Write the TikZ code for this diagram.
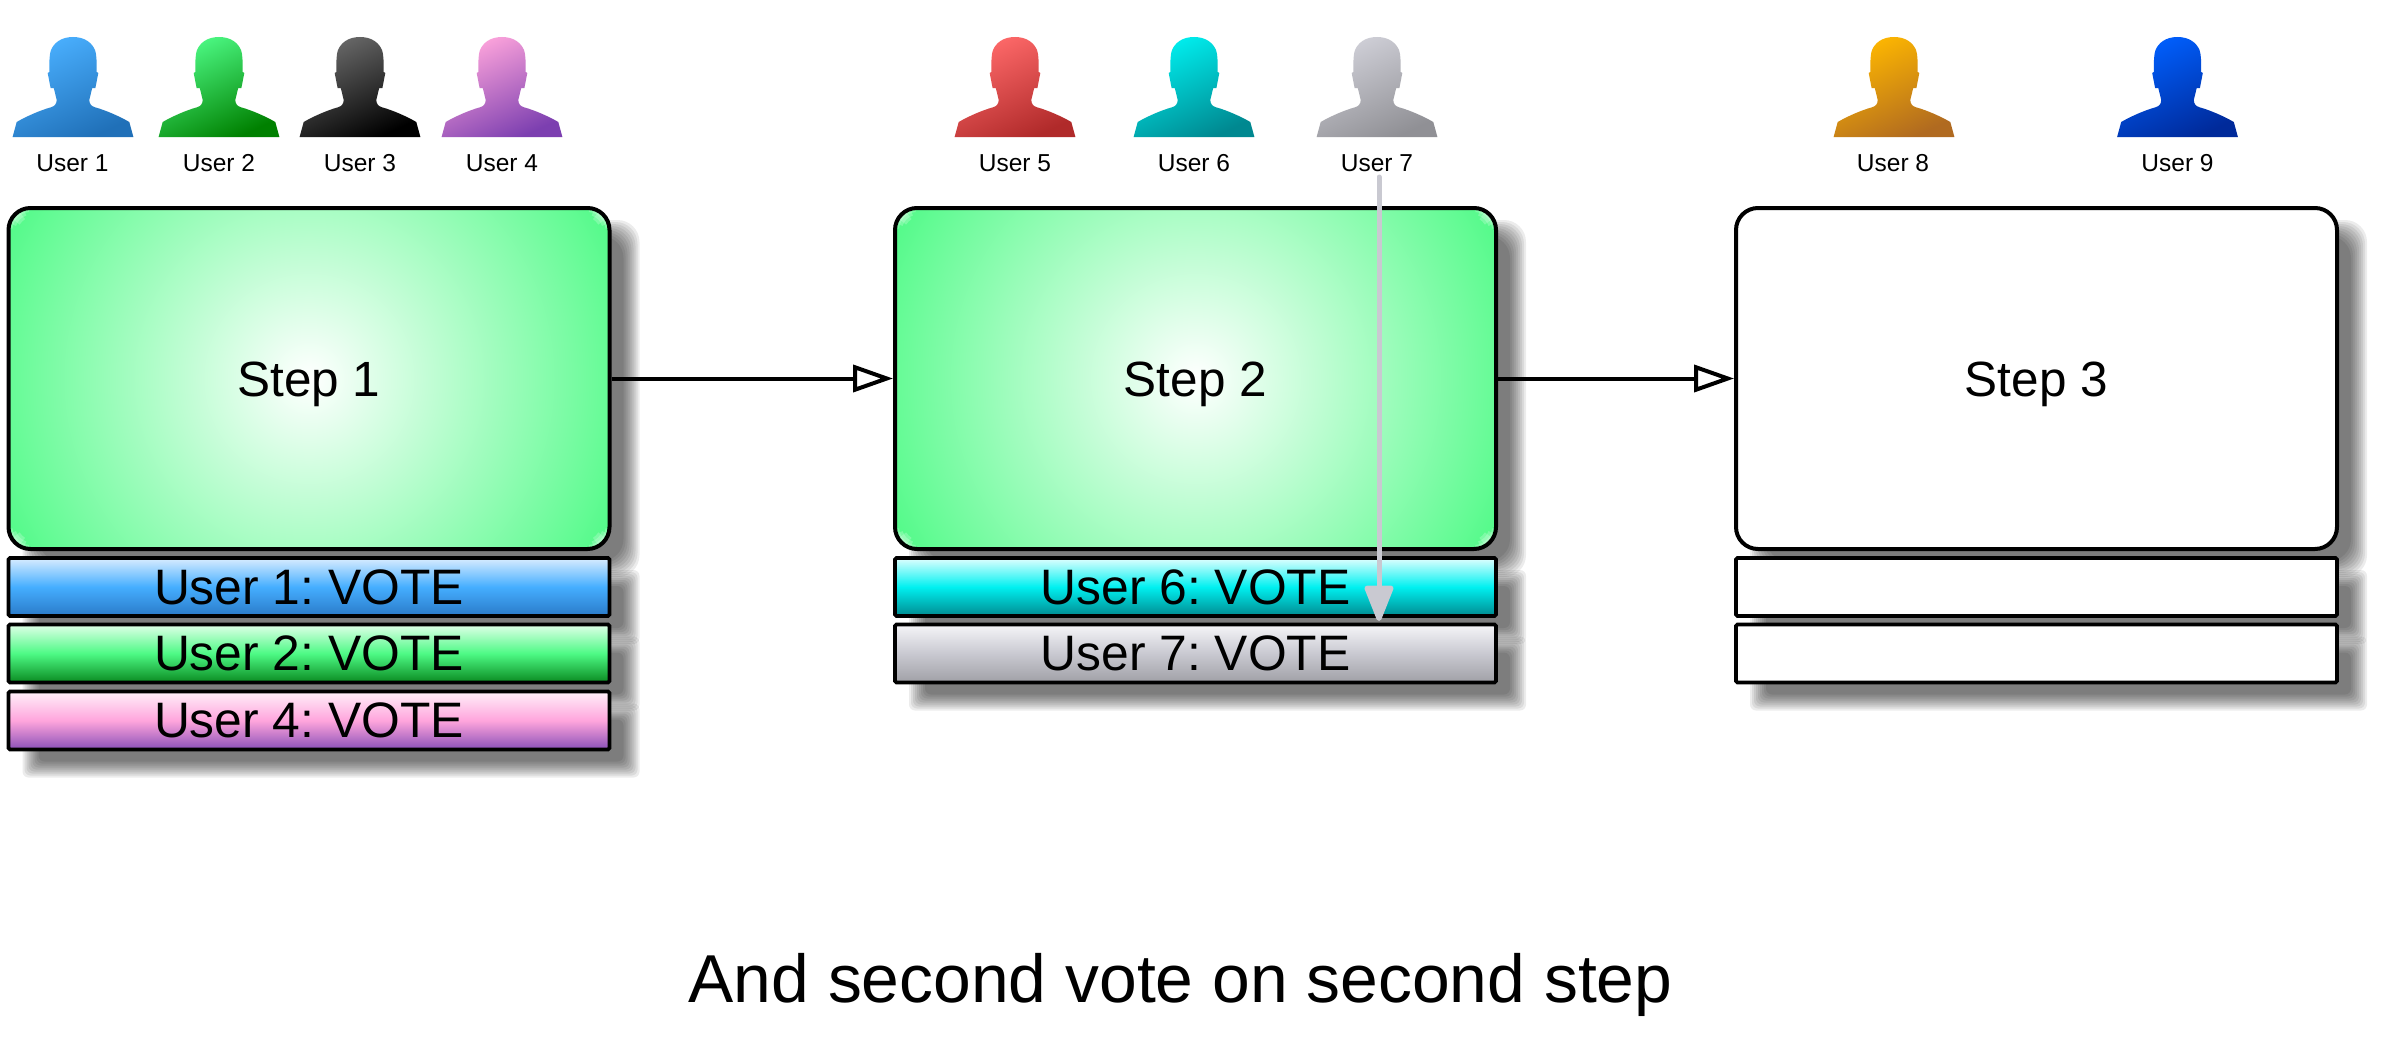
\documentclass[tikz,border=0pt]{standalone}
\usepackage{fontspec}
\setmainfont{Liberation Sans}
\usetikzlibrary{arrows.meta}
\definecolor{gmid}{HTML}{4DFA85}
\definecolor{shcol}{HTML}{000000}
\definecolor{gray7}{HTML}{C9C9D1}
\definecolor{ua}{HTML}{4AB0FF}\definecolor{ub}{HTML}{2070B8}
\definecolor{va}{HTML}{4DFA85}\definecolor{vb}{HTML}{008000}
\definecolor{wa}{HTML}{6A6A6A}\definecolor{wb}{HTML}{000000}
\definecolor{xa}{HTML}{FFA5DC}\definecolor{xb}{HTML}{7C3FB0}
\definecolor{ya}{HTML}{FF6A6A}\definecolor{yb}{HTML}{B02A2A}
\definecolor{za}{HTML}{00F0F0}\definecolor{zb}{HTML}{008890}
\definecolor{sa}{HTML}{D0D0D8}\definecolor{sb}{HTML}{909095}
\definecolor{ta}{HTML}{FFB800}\definecolor{tb}{HTML}{B06A20}
\definecolor{qa}{HTML}{0060FF}\definecolor{qb}{HTML}{002A9A}
\definecolor{b1t}{HTML}{D8ECFF}\definecolor{b1m}{HTML}{45AEFF}\definecolor{b1b}{HTML}{2A7AC8}
\definecolor{b2t}{HTML}{E0FFE8}\definecolor{b2m}{HTML}{4DFA85}\definecolor{b2b}{HTML}{0A8A20}
\definecolor{b4t}{HTML}{FFF0FA}\definecolor{b4m}{HTML}{FFA5DC}\definecolor{b4b}{HTML}{8A50B8}
\definecolor{b6t}{HTML}{E0FFFF}\definecolor{b6m}{HTML}{00F0F0}\definecolor{b6b}{HTML}{008A90}
\definecolor{b7t}{HTML}{F5F5F8}\definecolor{b7m}{HTML}{C9C9D1}\definecolor{b7b}{HTML}{A0A0A6}
\newcommand{\softshadow}[5]{%
  \foreach \rr in {8,6,4,2,0,-2,-4,-6,-8}{%
    \fill[shcol,opacity=.075,rounded corners=#5pt]
      ({#1+22-\rr},{#2+20-\rr}) rectangle ({#3+22+\rr},{#4+20+\rr});
  }%
}
\newcommand{\usericon}[3]{%
  \begin{scope}[shift={(#1,0)}]
    \shade[top color=#2,bottom color=#3,shading angle=25]
      (0,37) .. controls (12,37) and (19,43) .. (22,50)
      .. controls (23.5,54) and (23.7,60) .. (23.7,72)
      -- (25.3,73) -- (22.4,88) -- (19.2,88) -- (16.3,100)
      .. controls (16.5,104) and (18,106) .. (22,107.3)
      .. controls (32,110) and (46,116) .. (56.3,122) -- (60.4,137)
      -- (-60.4,137) -- (-56.3,122)
      .. controls (-46,116) and (-32,110) .. (-22,107.3)
      .. controls (-18,106) and (-16.5,104) .. (-16.3,100)
      -- (-19.2,88) -- (-22.4,88) -- (-25.3,73) -- (-23.7,72)
      .. controls (-23.7,60) and (-23.5,54) .. (-22,50)
      .. controls (-19,43) and (-12,37) .. (0,37) -- cycle;
  \end{scope}%
}
\newcommand{\glowarc}[4]{% angle, sign x, sign y, width
  \draw[white,opacity=.22,line width=#4pt]
    (path picture bounding box.center) ++({#2*278.5},{#3*(-148.5)})
    ++({#1-(26-#4)*2.2}:22pt) arc[start angle={#1-(26-#4)*2.2},end angle={#1+(26-#4)*2.2},radius=22pt];
}
\newcommand{\cornerglow}[3]{\glowarc{#1}{#2}{#3}{8}\glowarc{#1}{#2}{#3}{14}\glowarc{#1}{#2}{#3}{20}}
\tikzset{
  x=1pt,y=-1pt,
  every node/.append style={execute at begin node=\frenchspacing},
  userlab/.style={inner sep=0pt,font=\fontsize{24.5}{28}\selectfont,text height=18pt,text depth=0pt},
  mainbox/.style={draw=black,line width=4pt,rounded corners=22pt,minimum width=601pt,minimum height=341pt,inner sep=0pt,
    font=\fontsize{49.5}{56}\selectfont,text height=36pt,text depth=0pt},
  greenbox/.style={mainbox,path picture={
    \shade[inner color=white,outer color=gmid] (path picture bounding box.center) ++(-350,-350) rectangle ++(700,700);
    \cornerglow{45}{1}{1}\cornerglow{135}{-1}{1}\cornerglow{225}{-1}{-1}\cornerglow{315}{1}{-1}}},
  whitebox/.style={mainbox,fill=white},
  votebar/.style={draw=black,line width=3.8pt,rounded corners=1.5pt,minimum width=601pt,minimum height=58pt,inner sep=0pt,
    font=\fontsize{49.8}{56}\selectfont},
  barshade/.style n args={3}{votebar,top color=#1,bottom color=#3,middle color=#2},
  flow/.style={draw=black,line width=4pt,-{Triangle[open,fill=white,length=40pt,width=27pt]}},
  vote/.style={draw=gray7,line width=5pt,line cap=round,-{Triangle[length=40pt,width=30pt,round=false]}},
}
\begin{document}
\begin{tikzpicture}
\useasboundingbox (0,0) rectangle (2383,1041);
\fill[white] (0,0) rectangle (2383,1041);
% shadows
\softshadow{8.5}{208}{609.5}{549}{22}
\softshadow{8.5}{558}{609.5}{616}{6}
\softshadow{8.5}{624.5}{609.5}{682.5}{6}
\softshadow{8.5}{691.5}{609.5}{749.5}{6}
\softshadow{895}{208}{1496}{549}{22}
\softshadow{895}{558}{1496}{616}{6}
\softshadow{895}{624.5}{1496}{682.5}{6}
\softshadow{1736}{208}{2337}{549}{22}
\softshadow{1736}{558}{2337}{616}{6}
\softshadow{1736}{624.5}{2337}{682.5}{6}
% user icons
\usericon{73}{ua}{ub}
\usericon{219}{va}{vb}
\usericon{360}{wa}{wb}
\usericon{502}{xa}{xb}
\usericon{1015}{ya}{yb}
\usericon{1194}{za}{zb}
\usericon{1377}{sa}{sb}
\usericon{1894}{ta}{tb}
\usericon{2177.5}{qa}{qb}
% user labels
\node[userlab] (lab1) at (72.5,162.5) {User 1};
\node[userlab] (lab2) at (219,162.5) {User 2};
\node[userlab] (lab3) at (360,162.5) {User 3};
\node[userlab] (lab4) at (502,162.5) {User 4};
\node[userlab] (lab5) at (1015,162.5) {User 5};
\node[userlab] (lab6) at (1194,162.5) {User 6};
\node[userlab] (lab7) at (1377,162.5) {User 7};
\node[userlab] (lab8) at (1893,162.5) {User 8};
\node[userlab] (lab9) at (2177.5,162.5) {User 9};
% steps
\node[greenbox] (box1) at (309,378.5) {Step 1};
\node[greenbox] (box2) at (1195.5,378.5) {Step 2};
\node[whitebox] (box3) at (2036.5,378.5) {Step 3};
% vote bars
\node[barshade={b1t}{b1m}{b1b}] (bar11) at (309,587) {User 1: VOTE};
\node[barshade={b2t}{b2m}{b2b}] (bar12) at (309,653.5) {User 2: VOTE};
\node[barshade={b4t}{b4m}{b4b}] (bar13) at (309,720.5) {User 4: VOTE};
\node[barshade={b6t}{b6m}{b6b}] (bar21) at (1195.5,587) {User 6: VOTE};
\node[barshade={b7t}{b7m}{b7b}] (bar22) at (1195.5,653.5) {User 7: VOTE};
\node[votebar,fill=white] (bar31) at (2036.5,587) {};
\node[votebar,fill=white] (bar32) at (2036.5,653.5) {};
% connectors
\draw[flow] (box1.east) -- (box2.west);
\draw[flow] (box2.east) -- (box3.west);
\coordinate (vstart) at (1379,177);
\coordinate (vend) at (1379,621);
\draw[vote] (vstart) -- (vend);
% title
\node[inner sep=0pt,font=\fontsize{67.8}{78}\selectfont] (title) at (1180.5,985) {And second vote on second step};
\end{tikzpicture}
\end{document}
